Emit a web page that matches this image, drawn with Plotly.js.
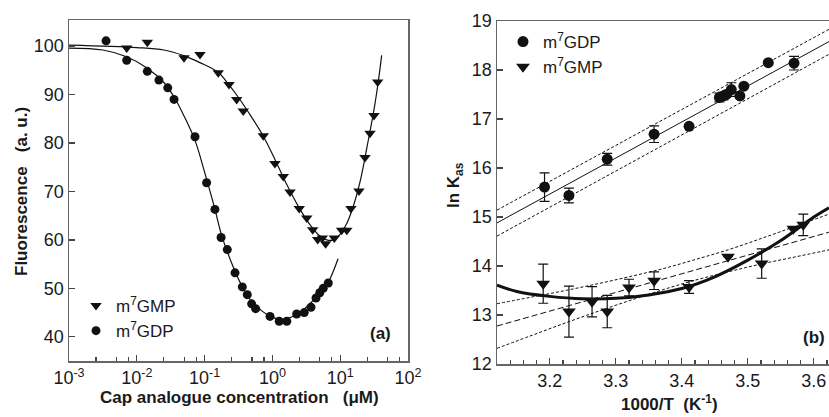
<!DOCTYPE html>
<html>
<head>
<meta charset="utf-8">
<script src="https://cdn.plot.ly/plotly-3.0.1.min.js"></script>
<style>html,body{margin:0;padding:0;background:#fff;}#chart{width:829px;height:417px;}</style>
</head>
<body>
<div id="chart"></div>
<script>
// ---------- Panel (a): fluorescence titration ----------
const gmpConc = [0.0071, 0.0143, 0.0497, 0.0855, 0.159, 0.229, 0.297, 0.372, 0.735, 1.09, 1.45, 1.82, 2.49, 3.21, 3.93, 4.66, 5.45, 6.1, 8.2, 10.5, 12.5, 14.4, 18.9, 23.2, 27.5, 31.5, 35.7];
const gmpFluor = [99.6, 100.8, 97.6, 98.3, 94.5, 92.1, 89.0, 86.6, 81.5, 75.8, 73.1, 69.9, 66.5, 64.5, 62.1, 60.1, 60.4, 59.2, 60.4, 62.0, 62.0, 66.5, 70.1, 77.0, 82.0, 85.7, 92.6];
const gdpConc = [0.00352, 0.0071, 0.0143, 0.0212, 0.0286, 0.0354, 0.0722, 0.107, 0.142, 0.175, 0.216, 0.281, 0.36, 0.426, 0.494, 0.566, 0.922, 1.26, 1.63, 2.28, 2.95, 3.71, 4.40, 5.0, 5.62, 6.67];
const gdpFluor = [101.1, 97.1, 94.8, 93.0, 91.4, 89.0, 81.3, 71.8, 66.3, 60.5, 58.0, 53.2, 50.3, 48.7, 46.8, 45.8, 44.2, 43.2, 43.2, 44.7, 45.0, 46.1, 48.0, 49.1, 50.0, 51.1];
// fitted curves
const gmpFitConc = [0.001, 0.01, 0.0251, 0.0501, 0.0851, 0.158, 0.229, 0.316, 0.501, 0.735, 1.10, 1.58, 2.51, 3.55, 5.01, 6.31, 7.94, 10.0, 12.6, 15.8, 20.0, 25.1, 31.6, 36.3, 40.9];
const gmpFitFluor = [100.2, 99.7, 99.2, 98.0, 96.6, 94.6, 92.0, 89.4, 85.2, 81.4, 76.5, 71.8, 66.5, 63.2, 60.8, 60.0, 60.0, 61.2, 63.5, 67.2, 72.5, 79.5, 87.0, 92.5, 98.1];
const gdpFitConc = [0.001, 0.00316, 0.00708, 0.0141, 0.0251, 0.0355, 0.0501, 0.0724, 0.1, 0.141, 0.178, 0.251, 0.355, 0.501, 0.708, 1.0, 1.41, 2.0, 2.82, 3.98, 5.62, 7.08, 9.3];
const gdpFitFluor = [99.6, 99.2, 97.8, 95.5, 92.5, 89.5, 85.5, 80.5, 74.0, 66.5, 61.0, 55.2, 50.5, 47.2, 45.3, 44.0, 43.6, 44.2, 45.5, 47.5, 49.8, 52.0, 56.1];
const xTickVals = [0.001, 0.01, 0.1, 1, 10, 100];
const xTickText = ['10<sup>-3</sup>', '10<sup>-2</sup>', '10<sup>-1</sup>', '10<sup>0</sup>', '10<sup>1</sup>', '10<sup>2</sup>'];
const minorMantissa = [2.5, 5, 7.5];
const yTicksA = [40, 50, 60, 70, 80, 90, 100];

// ---------- Panel (b): van't Hoff plot ----------
const invT_GDP = [3.192, 3.229, 3.287, 3.358, 3.411, 3.457, 3.463, 3.467, 3.475, 3.488, 3.494, 3.531, 3.570];
const lnK_GDP = [15.61, 15.44, 16.18, 16.69, 16.85, 17.44, 17.47, 17.50, 17.60, 17.47, 17.67, 18.15, 18.14];
const err_GDP = [0.29, 0.15, 0.12, 0.17, 0, 0.09, 0.08, 0.06, 0.14, 0, 0, 0, 0.14];
const invT_GMP = [3.190, 3.229, 3.264, 3.287, 3.320, 3.358, 3.411, 3.470, 3.521, 3.569, 3.584];
const lnK_GMP = [13.64, 13.07, 13.27, 13.07, 13.56, 13.70, 13.57, 14.19, 14.05, 14.76, 14.84];
const err_GMP = [0.40, 0.52, 0.31, 0.33, 0.17, 0.18, 0.13, 0, 0.30, 0, 0.22];
// m7GDP linear fit and its band (end points read at the plot edges)
const lineX = [3.12, 3.623];
const gdpFit = [14.88, 18.58];
const gdpUpper = [15.14, 18.83];
const gdpLower = [14.61, 18.32];
// m7GMP linear fit (long dashes) and its curved confidence band
const gmpFit = [12.775, 14.69];
const bandX = [3.12, 3.17, 3.22, 3.27, 3.32, 3.37, 3.42, 3.47, 3.52, 3.57, 3.623];
const gmpBandUpper = [13.23, 13.36, 13.49, 13.63, 13.78, 13.94, 14.13, 14.33, 14.56, 14.80, 15.06];
const gmpBandLower = [12.32, 12.57, 12.82, 13.06, 13.29, 13.51, 13.71, 13.88, 14.04, 14.18, 14.33];
// non-linear fit (thick curve)
const curveX = [3.12, 3.15, 3.20, 3.25, 3.30, 3.35, 3.40, 3.45, 3.50, 3.55, 3.60, 3.623];
const curveY = [13.61, 13.48, 13.38, 13.33, 13.34, 13.41, 13.54, 13.78, 14.12, 14.52, 15.00, 15.19];
const xTicksB = [3.2, 3.3, 3.4, 3.5, 3.6];
const yTicksB = [12, 13, 14, 15, 16, 17, 18, 19];

const W = 829, H = 417;
const minorVals = [];
for (let e = -3; e < 2; e++) minorMantissa.forEach(m => minorVals.push(m * Math.pow(10, e)));

const black = '#111';
const dotted = '3px,2px';
const traces = [
  {x: gmpFitConc, y: gmpFitFluor, mode: 'lines', line: {color: black, width: 1.2, shape: 'spline'}, xaxis: 'x', yaxis: 'y', showlegend: false, hoverinfo: 'skip'},
  {x: gdpFitConc, y: gdpFitFluor, mode: 'lines', line: {color: black, width: 1.2, shape: 'spline'}, xaxis: 'x', yaxis: 'y', showlegend: false, hoverinfo: 'skip'},
  {x: gmpConc, y: gmpFluor, mode: 'markers', name: 'm<sup>7</sup>GMP', marker: {symbol: 'triangle-down', size: 10, color: black}, xaxis: 'x', yaxis: 'y', legend: 'legend'},
  {x: gdpConc, y: gdpFluor, mode: 'markers', name: 'm<sup>7</sup>GDP', marker: {symbol: 'circle', size: 9, color: black}, xaxis: 'x', yaxis: 'y', legend: 'legend'},

  {x: lineX, y: gdpUpper, mode: 'lines', line: {color: black, width: 1, dash: dotted}, xaxis: 'x2', yaxis: 'y2', showlegend: false},
  {x: lineX, y: gdpLower, mode: 'lines', line: {color: black, width: 1, dash: dotted}, xaxis: 'x2', yaxis: 'y2', showlegend: false},
  {x: lineX, y: gdpFit, mode: 'lines', line: {color: black, width: 1}, xaxis: 'x2', yaxis: 'y2', showlegend: false},
  {x: bandX, y: gmpBandUpper, mode: 'lines', line: {color: black, width: 1, dash: dotted, shape: 'spline'}, xaxis: 'x2', yaxis: 'y2', showlegend: false},
  {x: lineX, y: gmpFit, mode: 'lines', line: {color: black, width: 1, dash: '6px,3px'}, xaxis: 'x2', yaxis: 'y2', showlegend: false},
  {x: bandX, y: gmpBandLower, mode: 'lines', line: {color: black, width: 1, dash: dotted, shape: 'spline'}, xaxis: 'x2', yaxis: 'y2', showlegend: false},
  {x: curveX, y: curveY, mode: 'lines', line: {color: black, width: 3, shape: 'spline'}, xaxis: 'x2', yaxis: 'y2', showlegend: false},
  {x: invT_GDP, y: lnK_GDP, mode: 'markers', name: 'm<sup>7</sup>GDP', marker: {symbol: 'circle', size: 11, color: black},
   error_y: {type: 'data', array: err_GDP, visible: true, color: black, thickness: 1.2, width: 5}, xaxis: 'x2', yaxis: 'y2', legend: 'legend2'},
  {x: invT_GMP, y: lnK_GMP, mode: 'markers', name: 'm<sup>7</sup>GMP', marker: {symbol: 'triangle-down', size: 12, color: black},
   error_y: {type: 'data', array: err_GMP, visible: true, color: black, thickness: 1.2, width: 5}, xaxis: 'x2', yaxis: 'y2', legend: 'legend2'}
];

const axisCommon = {
  showgrid: false, zeroline: false, showline: true, linecolor: '#666', linewidth: 1.5,
  ticks: 'inside', ticklen: 6, tickwidth: 1.2, tickcolor: '#444',
  tickfont: {family: 'Liberation Sans, Arial, sans-serif', size: 18, color: '#1a1a1a'}
};
const titleFont = {family: 'Liberation Sans, Arial, sans-serif', size: 17, color: '#1a1a1a'};

const layout = {
  width: W, height: H, margin: {l: 0, r: 0, t: 0, b: 0},
  paper_bgcolor: '#fff', plot_bgcolor: '#fff',
  xaxis: Object.assign({}, axisCommon, {type: 'log', range: [-3, 2], domain: [69 / W, 408 / W], anchor: 'y', mirror: true,
    tickmode: 'array', tickvals: xTickVals, ticktext: xTickText,
    minor: {tickmode: 'array', tickvals: minorVals, ticks: 'inside', ticklen: 4, tickcolor: '#444', showgrid: false}}),
  yaxis: Object.assign({}, axisCommon, {range: [35, 105.4], domain: [(H - 361) / H, (H - 20) / H], anchor: 'x', mirror: true,
    tickmode: 'array', tickvals: yTicksA}),
  xaxis2: Object.assign({}, axisCommon, {range: [3.12, 3.623], domain: [497 / W, 1], anchor: 'y2', mirror: true,
    tickmode: 'array', tickvals: xTicksB, ticktext: xTicksB.map(v => v.toFixed(1)),
    minor: {dtick: 0.02, ticks: 'inside', ticklen: 4, tickcolor: '#444', showgrid: false}}),
  yaxis2: Object.assign({}, axisCommon, {range: [12, 19], domain: [(H - 364) / H, (H - 21) / H], anchor: 'x2', mirror: false,
    tickmode: 'array', tickvals: yTicksB}),
  legend: {x: 76 / W, y: (H - 288) / H, xanchor: 'left', yanchor: 'top', bgcolor: 'rgba(0,0,0,0)',
    font: {family: 'Liberation Sans, Arial, sans-serif', size: 17, color: '#1a1a1a'}, tracegroupgap: 0, itemwidth: 30},
  legend2: {x: 503 / W, y: (H - 24) / H, xanchor: 'left', yanchor: 'top', bgcolor: 'rgba(0,0,0,0)',
    font: {family: 'Liberation Sans, Arial, sans-serif', size: 17, color: '#1a1a1a'}, tracegroupgap: 0, itemwidth: 30},
  annotations: [
    {text: '<b>Cap analogue concentration\u00A0\u00A0\u00A0(\u03BCM)</b>', xref: 'paper', yref: 'paper', x: 239 / W, y: (H - 397) / H,
     xanchor: 'center', yanchor: 'middle', showarrow: false, font: titleFont},
    {text: '<b>Fluorescence\u00A0\u00A0\u00A0(a. u.)</b>', xref: 'paper', yref: 'paper', x: 21 / W, y: (H - 192) / H,
     xanchor: 'center', yanchor: 'middle', textangle: -90, showarrow: false, font: titleFont},
    {text: '<b>1000/T\u00A0\u00A0(K<sup>-1</sup>)</b>', xref: 'paper', yref: 'paper', x: 669 / W, y: (H - 403) / H,
     xanchor: 'center', yanchor: 'middle', showarrow: false, font: titleFont},
    {text: '<b>ln K<sub>as</sub></b>', xref: 'paper', yref: 'paper', x: 455 / W, y: (H - 185) / H,
     xanchor: 'center', yanchor: 'middle', textangle: -90, showarrow: false, font: titleFont},
    {text: '<b>(a)</b>', xref: 'paper', yref: 'paper', x: 393 / W, y: (H - 333) / H,
     xanchor: 'right', yanchor: 'middle', showarrow: false, font: titleFont},
    {text: '<b>(b)</b>', xref: 'paper', yref: 'paper', x: 827 / W, y: (H - 337) / H,
     xanchor: 'right', yanchor: 'middle', showarrow: false, font: titleFont}
  ]
};

Plotly.newPlot('chart', traces, layout, {displayModeBar: false, staticPlot: true});
</script>
</body>
</html>
